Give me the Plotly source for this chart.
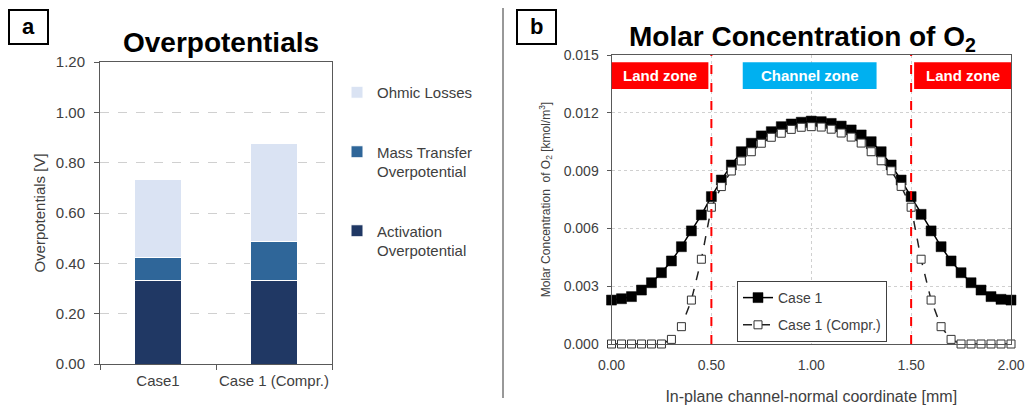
import plotly.graph_objects as go

# ---- Panel a: overpotential breakdown (V) ----
cases = ["Case1", "Case 1 (Compr.)"]
activation = [0.33, 0.33]
mass_transfer = [0.095, 0.155]
ohmic = [0.31, 0.39]

# ---- Panel b: O2 molar concentration across the channel (kmol/m3) ----
x_mm = [0.00, 0.05, 0.10, 0.15, 0.20, 0.25, 0.30, 0.35, 0.40, 0.45,
        0.50, 0.55, 0.60, 0.65, 0.70, 0.75, 0.80, 0.85, 0.90, 0.95,
        1.00, 1.05, 1.10, 1.15, 1.20, 1.25, 1.30, 1.35, 1.40, 1.45,
        1.50, 1.55, 1.60, 1.65, 1.70, 1.75, 1.80, 1.85, 1.90, 1.95, 2.00]
case1 = [0.00228, 0.00235, 0.00246, 0.00280, 0.00318, 0.00370, 0.00431, 0.00505, 0.00587, 0.00670,
         0.00765, 0.00851, 0.00929, 0.00998, 0.01042, 0.01080, 0.01102, 0.01128, 0.01142, 0.01151,
         0.01157, 0.01154, 0.01145, 0.01131, 0.01111, 0.01085, 0.01050, 0.00998, 0.00929, 0.00851,
         0.00765, 0.00673, 0.00587, 0.00505, 0.00431, 0.00370, 0.00318, 0.00280, 0.00246, 0.00232, 0.00228]
case1_compr = [0.0, 0.0, 0.0, 0.0, 0.0, 0.0, 0.00024, 0.00090, 0.00228, 0.00440,
               0.00710, 0.00817, 0.00898, 0.00950, 0.00998, 0.01042, 0.01073, 0.01094, 0.01114, 0.01125,
               0.01128, 0.01126, 0.01115, 0.01095, 0.01074, 0.01043, 0.00998, 0.00951, 0.00899, 0.00818,
               0.00710, 0.00440, 0.00228, 0.00090, 0.00024, 0.0, 0.0, 0.0, 0.0, 0.0, 0.0]

FONT = "Liberation Sans, Arial, sans-serif"
TXT = "#404040"
GRID = "#d0d0d0"
AX = "#595959"
W, H = 1027, 408


def px_x(v):
    return v / W


def px_y(v):
    return 1 - v / H


fig = go.Figure()

# stacked bars (bottom to top); legend lists them top to bottom
bar_specs = [
    ("Activation<br>Overpotential", activation, "#203864", 3),
    ("Mass Transfer<br>Overpotential", mass_transfer, "#2f6699", 2),
    ("Ohmic Losses", ohmic, "#dae3f3", 1),
]
for i, (name, vals, col, rank) in enumerate(bar_specs):
    fig.add_trace(go.Bar(
        x=cases, y=vals, name=name, marker=dict(color=col, line=dict(color="white", width=1)),
        xaxis="x", yaxis="y", legend="legend", legendgroup=f"g{i}", legendrank=rank,
    ))

# concentration profiles
fig.add_trace(go.Scatter(
    x=x_mm, y=case1, name="Case 1", mode="lines+markers",
    line=dict(color="black", width=1.5),
    marker=dict(symbol="square", size=10, color="black", line=dict(color="black", width=0.5)),
    xaxis="x2", yaxis="y2", legend="legend2", legendgroup="c1", cliponaxis=False,
))
fig.add_trace(go.Scatter(
    x=x_mm, y=case1_compr, name="Case 1 (Compr.)", mode="lines+markers",
    line=dict(color="#222222", width=1.5, dash="dash"),
    marker=dict(symbol="square", size=8, color="white", line=dict(color="#333333", width=1)),
    xaxis="x2", yaxis="y2", legend="legend2", legendgroup="c2", cliponaxis=False,
))

frame = dict(showline=True, linecolor=AX, linewidth=1, mirror=True, zeroline=False)

fig.update_layout(
    width=W, height=H,
    margin=dict(l=0, r=0, t=0, b=0, autoexpand=False),
    paper_bgcolor="white", plot_bgcolor="white",
    font=dict(family=FONT, color=TXT),
    barmode="stack", bargap=0.6,
    showlegend=True,
    xaxis=dict(
        domain=[px_x(100), px_x(332)], anchor="y",
        ticks="outside", ticklen=5, tickcolor=AX, tickson="boundaries",
        ticklabelstandoff=3, tickangle=0,
        tickfont=dict(family=FONT, size=15, color=TXT),
        showgrid=False, **frame,
    ),
    yaxis=dict(
        domain=[px_y(364), px_y(62)], anchor="x", range=[0, 1.2],
        tickvals=[0, 0.2, 0.4, 0.6, 0.8, 1.0, 1.2], tickformat=".2f",
        ticks="outside", ticklen=5, tickcolor=AX, ticklabelstandoff=6,
        tickfont=dict(family=FONT, size=15, color=TXT),
        showgrid=True, gridcolor=GRID, griddash="dash", gridwidth=1,
        title=dict(text="Overpotentials [V]", font=dict(family=FONT, size=15, color=TXT), standoff=6),
        **frame,
    ),
    xaxis2=dict(
        domain=[px_x(611.5), px_x(1011)], anchor="y2", range=[0, 2],
        tickvals=[0, 0.5, 1.0, 1.5, 2.0], tickformat=".2f",
        ticks="", ticklabelstandoff=8,
        tickfont=dict(family=FONT, size=14, color=TXT),
        showgrid=True, gridcolor=GRID, griddash="dot", gridwidth=1,
        title=dict(text="In-plane channel-normal coordinate [mm]",
                   font=dict(family=FONT, size=16, color=TXT), standoff=19),
        **frame,
    ),
    yaxis2=dict(
        domain=[px_y(344), px_y(55)], anchor="x2", range=[0, 0.015],
        tickvals=[0, 0.003, 0.006, 0.009, 0.012, 0.015], tickformat=".3f",
        ticks="outside", ticklen=4, tickcolor=AX, ticklabelstandoff=5,
        tickfont=dict(family=FONT, size=14, color=TXT),
        showgrid=True, gridcolor=GRID, griddash="dot", gridwidth=1,
        title=dict(text="Molar Concentration  of O<sub>2</sub> [kmol/m<sup>3</sup>]",
                   font=dict(family=FONT, size=12, color=TXT), standoff=10),
        **frame,
    ),
    legend=dict(
        x=px_x(337), y=px_y(76), xanchor="left", yanchor="top",
        traceorder="grouped", tracegroupgap=37, valign="top",
        font=dict(family=FONT, size=15, color=TXT), bgcolor="rgba(0,0,0,0)",
        itemwidth=30,
    ),
    legend2=dict(
        x=px_x(737), y=px_y(281), xanchor="left", yanchor="top",
        traceorder="grouped", tracegroupgap=6,
        font=dict(family=FONT, size=14, color=TXT), bgcolor="white",
        bordercolor=TXT, borderwidth=1, itemwidth=30,
    ),
)

shapes = []
# panel labels
for x0, x1 in [(9, 48), (517, 556)]:
    shapes.append(dict(type="rect", xref="paper", yref="paper",
                       x0=px_x(x0), x1=px_x(x1), y0=px_y(44), y1=px_y(10),
                       line=dict(color="black", width=2), fillcolor="white"))
# separator between panels
shapes.append(dict(type="line", xref="paper", yref="paper",
                   x0=px_x(503), x1=px_x(503), y0=px_y(398), y1=px_y(8),
                   line=dict(color="#333333", width=1)))
# zone boundaries
for xb in (0.5, 1.5):
    shapes.append(dict(type="line", xref="x2", yref="y2 domain", x0=xb, x1=xb, y0=0, y1=1,
                       line=dict(color="red", width=2, dash="dash")))
# zone banners
zones = [(0.0, 0.485, "#ff0000", "Land zone"),
         (0.657, 1.327, "#00b0f0", "Channel zone"),
         (1.515, 2.0, "#ff0000", "Land zone")]
for z0, z1, col, _ in zones:
    shapes.append(dict(type="rect", xref="x2", yref="y2 domain", x0=z0, x1=z1,
                       y0=0.882, y1=0.975, line=dict(width=0), fillcolor=col))
fig.update_layout(shapes=shapes)

mid = dict(showarrow=False, xanchor="center", yanchor="middle")
annotations = [
    dict(text="<b>a</b>", x=px_x(28.5), y=px_y(27), xref="paper", yref="paper",
         font=dict(family=FONT, size=22, color="black"), **mid),
    dict(text="<b>b</b>", x=px_x(536.5), y=px_y(27), xref="paper", yref="paper",
         font=dict(family=FONT, size=22, color="black"), **mid),
    dict(text="<b>Overpotentials</b>", x=px_x(221), y=px_y(43), xref="paper", yref="paper",
         font=dict(family=FONT, size=28, color="black"), **mid),
    dict(text="<b>Molar Concentration of O<sub>2</sub></b>", x=px_x(802), y=px_y(38),
         xref="paper", yref="paper", font=dict(family=FONT, size=28, color="black"), **mid),
]
for z0, z1, _, label in zones:
    annotations.append(dict(text=f"<b>{label}</b>", x=(z0 + z1) / 2, y=0.9285,
                            xref="x2", yref="y2 domain",
                            font=dict(family=FONT, size=15, color="white"), **mid))
fig.update_layout(annotations=annotations)

fig.write_html("out.html")
